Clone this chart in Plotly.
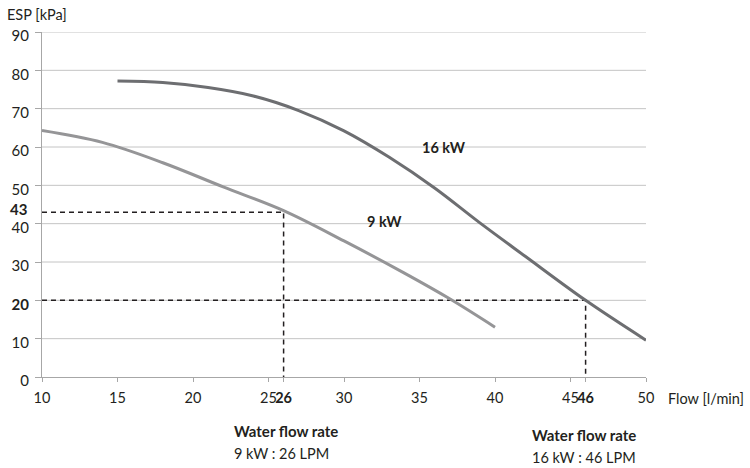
import plotly.graph_objects as go

# Pump curves: external static pressure vs. water flow
flow_9kw = [10, 14, 18, 22, 26, 30, 34, 37, 40]
esp_9kw = [64.3, 61.2, 55.9, 49.6, 43.4, 35.5, 27.1, 20.4, 13]

flow_16kw = [15, 18, 21, 24, 27, 30, 33, 36, 39, 42, 46, 50]
esp_16kw = [77.2, 76.8, 75.5, 73.3, 69.5, 64.2, 57.3, 49.3, 40.2, 31.5, 20, 9.6]

# Rated operating points
rated_flow = {"9 kW": 26, "16 kW": 46}
rated_esp = {"9 kW": 43, "16 kW": 20}

# Axis ticks
x_ticks = [10, 15, 20, 25, 30, 35, 40, 45, 50]
y_ticks = [0, 10, 20, 30, 40, 50, 60, 70, 80, 90]
y_grid = [10, 20, 30, 40, 50, 60, 70, 80, 90]

FONT = "Lato"
TXT = "#231f20"
AXIS = "#a7a7a7"

fig = go.Figure()

# Dashed guides to the rated points
for name in ["9 kW", "16 kW"]:
    fx, fy = rated_flow[name], rated_esp[name]
    fig.add_trace(go.Scatter(
        x=[x_ticks[0], fx, fx], y=[fy, fy, y_ticks[0]],
        mode="lines", line=dict(color=TXT, width=1.5, dash="5px,4px"),
        hoverinfo="skip", showlegend=False, cliponaxis=False,
    ))

fig.add_trace(go.Scatter(
    x=flow_9kw, y=esp_9kw, mode="lines", name="9 kW",
    line=dict(color="#959597", width=3, shape="spline", smoothing=1.0),
    showlegend=False,
))
fig.add_trace(go.Scatter(
    x=flow_16kw, y=esp_16kw, mode="lines", name="16 kW",
    line=dict(color="#6d6e71", width=3, shape="spline", smoothing=1.0),
    showlegend=False,
))

# Horizontal gridlines
for v in y_grid:
    fig.add_shape(type="line", xref="paper", x0=0, x1=1, yref="y", y0=v, y1=v,
                  line=dict(color="#c4c4c4", width=1), layer="below")

# Tick labels, with the rated values in bold
xt_vals = sorted(x_ticks + list(rated_flow.values()))
xt_text = [f"<b>{v}</b>" if v in rated_flow.values() else str(v) for v in xt_vals]
yt_text = [f"<b>{v}</b>" if v in rated_esp.values() else str(v) for v in y_ticks]

fig.update_xaxes(
    range=[10, 50], tickvals=xt_vals, ticktext=xt_text, tickangle=0,
    showgrid=False, zeroline=False, showline=True, linecolor=AXIS, linewidth=1,
    ticks="outside", ticklen=4, tickcolor=AXIS,
    tickfont=dict(family=FONT, size=14.5, color=TXT), ticklabelstandoff=4,
)
fig.update_yaxes(
    range=[0, 90], tickvals=y_ticks, ticktext=yt_text,
    showgrid=False, zeroline=False, showline=True, linecolor=AXIS, linewidth=1,
    ticks="outside", ticklen=6, tickcolor=AXIS,
    tickfont=dict(family=FONT, size=15, color=TXT), ticklabelshift=4,
    ticklabelstandoff=3,
)

# Rated pressure label that is not on the regular tick grid
for name, v in rated_esp.items():
    if v not in y_ticks:
        fig.add_annotation(xref="paper", yref="y", x=0, y=v, xshift=-13, yshift=3,
                           xanchor="right", yanchor="middle", text=f"<b>{v}</b>",
                           showarrow=False, font=dict(family=FONT, size=15, color=TXT))

# Curve labels
fig.add_annotation(x=36.6, y=59.9, text="<b>16 kW</b>", showarrow=False,
                   font=dict(family=FONT, size=14.5, color=TXT))
fig.add_annotation(x=32.7, y=40.6, text="<b>9 kW</b>", showarrow=False,
                   font=dict(family=FONT, size=14.5, color=TXT))

# Axis titles
fig.add_annotation(xref="paper", yref="paper", x=0, y=1, xshift=-37, yshift=18,
                   xanchor="left", yanchor="middle", text="ESP [kPa]", showarrow=False,
                   font=dict(family=FONT, size=14.5, color=TXT))
fig.add_annotation(xref="x", yref="paper", x=50, y=0, xshift=20, yshift=-21,
                   xanchor="left", yanchor="middle", text="Flow [l/min]", showarrow=False,
                   font=dict(family=FONT, size=14.5, color=TXT))

# Rated flow notes under the axis
notes = [("9 kW", 25, -37, -54), ("16 kW", 45, -41, -58)]
for name, anchor_x, dx, dy in notes:
    fig.add_annotation(xref="x", yref="paper", x=anchor_x, y=0, xshift=dx, yshift=dy,
                       xanchor="left", yanchor="middle",
                       text="<b>Water flow rate</b>", showarrow=False,
                       font=dict(family=FONT, size=15, color=TXT))
    fig.add_annotation(xref="x", yref="paper", x=anchor_x, y=0, xshift=dx, yshift=dy - 22,
                       xanchor="left", yanchor="middle",
                       text=f"{name} : {rated_flow[name]} LPM", showarrow=False,
                       font=dict(family=FONT, size=14.5, color=TXT))

fig.update_layout(
    width=750, height=468,
    margin=dict(l=39, r=104, t=32, b=91),
    paper_bgcolor="white", plot_bgcolor="white",
    showlegend=False,
)

fig.write_html("out.html")
